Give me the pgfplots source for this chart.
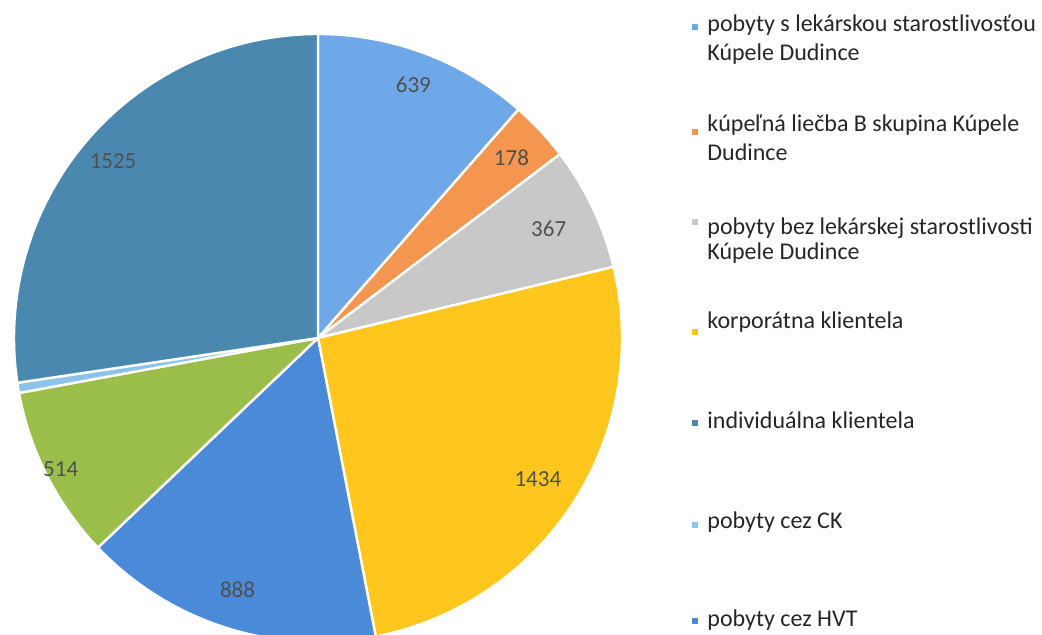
\documentclass[border=0pt]{standalone}
\usepackage{fontspec}
\setmainfont{Carlito}
\usepackage{pgfplots}
\usepackage{pgfplotstable}
\pgfplotsset{compat=1.18}
\definecolor{cA}{RGB}{111,168,232}
\definecolor{cB}{RGB}{245,150,80}
\definecolor{cC}{RGB}{200,200,200}
\definecolor{cD}{RGB}{255,198,30}
\definecolor{cE}{RGB}{74,138,216}
\definecolor{cF}{RGB}{155,190,75}
\definecolor{cG}{RGB}{140,195,235}
\definecolor{cH}{RGB}{74,136,176}
\definecolor{txt}{RGB}{38,38,38}
\definecolor{lbl}{RGB}{80,80,80}

% slices clockwise from 12 o'clock; lr = label distance (fraction of radius)
\pgfplotstableread{
val col lr
639 cA 0.89
178 cB 0.87
367 cC 0.84
1434 cD 0.86
888 cE 0.87
514 cF 0.95
30 cG 0
1525 cH 0.89
}\piedata
\def\total{0}
\pgfplotsforeachungrouped \i in {0,...,7}{%
  \pgfplotstablegetelem{\i}{val}\of\piedata
  \pgfmathsetmacro\total{\total+\pgfplotsretval}}

\begin{document}
\begin{tikzpicture}
\begin{axis}[x=0.5pt,y=0.5pt,scale only axis,
  xmin=0,xmax=1042,ymin=0,ymax=634,
  hide axis,clip mode=global]
\def\cum{0}
\pgfplotsforeachungrouped \i in {0,...,7}{%
  \pgfplotstablegetelem{\i}{val}\of\piedata \let\v\pgfplotsretval
  \pgfplotstablegetelem{\i}{col}\of\piedata \let\c\pgfplotsretval
  \pgfplotstablegetelem{\i}{lr}\of\piedata \let\lr\pgfplotsretval
  \pgfmathsetmacro\a{90-\cum/\total*360}
  \pgfmathsetmacro\b{90-(\cum+\v)/\total*360}
  \pgfmathsetmacro\m{(\a+\b)/2}
  \pgfmathsetmacro\lx{318+\lr*304*cos(\m)}
  \pgfmathsetmacro\ly{296+\lr*304*sin(\m)}
  \edef\temp{\noexpand\fill[\c,draw=white,line width=1.2pt,line join=round]
    (axis cs:318,296) -- ++(\a:152pt) arc[start angle=\a,end angle=\b,radius=152pt] -- cycle;}
  \temp
  \ifdim\lr pt>0pt
    \edef\temp{\noexpand\node[lbl,font=\noexpand\fontsize{11.5}{13}\noexpand\selectfont] at (axis cs:\lx,\ly) {\v};}
    \temp
  \fi
  \pgfmathsetmacro\cum{\cum+\v}
}
% legend
\begin{scope}[every node/.style={anchor=base west,txt,font=\fontsize{12}{14}\selectfont,inner sep=0pt}]
\node at (axis cs:707,603) {pobyty s lekárskou starostlivosťou};
\node at (axis cs:707,574) {Kúpele Dudince};
\node at (axis cs:707,503) {kúpeľná liečba B skupina Kúpele};
\node at (axis cs:707,474) {Dudince};
\node at (axis cs:707,400) {pobyty bez lekárskej starostlivosti};
\node at (axis cs:707,375) {Kúpele Dudince};
\node at (axis cs:707,306) {korporátna klientela};
\node at (axis cs:707,206) {individuálna klientela};
\node at (axis cs:707,106) {pobyty cez CK};
\node at (axis cs:707,8) {pobyty cez HVT};
\end{scope}
\fill[cA] (axis cs:692,604) rectangle (axis cs:698,610);
\fill[cB] (axis cs:692,499) rectangle (axis cs:698,505);
\fill[cC] (axis cs:692,409) rectangle (axis cs:698,415);
\fill[cD] (axis cs:692,299) rectangle (axis cs:698,305);
\fill[cH] (axis cs:692,208) rectangle (axis cs:698,214);
\fill[cG] (axis cs:692,106) rectangle (axis cs:698,112);
\fill[cE] (axis cs:692,10) rectangle (axis cs:698,16);
\end{axis}
\pgfresetboundingbox
\path (current axis.south west) rectangle (current axis.north east);
\end{tikzpicture}
\end{document}
